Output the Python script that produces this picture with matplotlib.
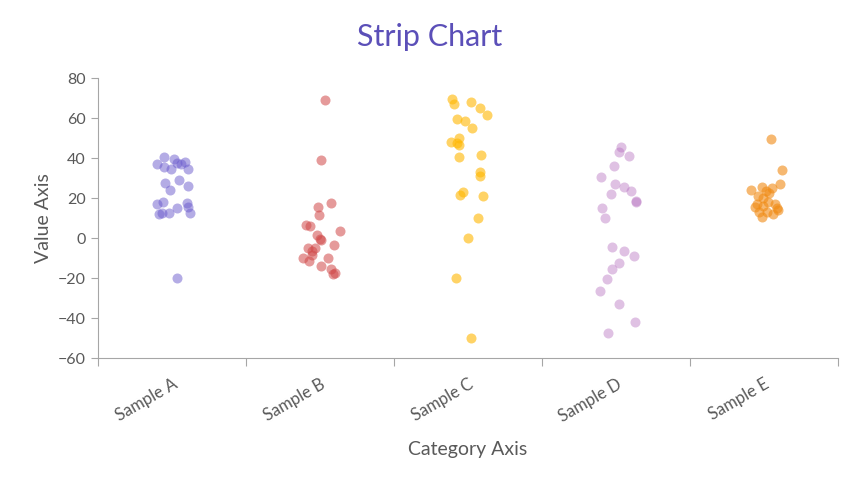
import numpy as np
import matplotlib
matplotlib.use('Agg')
import matplotlib.pyplot as plt

categories = ['Sample A', 'Sample B', 'Sample C', 'Sample D', 'Sample E']
colors = ['#6a5acd', '#d04848', '#ffb700', '#b46cbe', '#f08a12']
alphas = [0.5, 0.55, 0.6, 0.42, 0.6]

# values, with the horizontal jitter of each dot
a_vals = [40.7, 37, 35.7, 39.3, 37.3, 34.3, 37, 38, 34.3, 27.7, 29, 24, 26.2,
          17, 17.8, 15.2, 17.7, 15.7, 12, 12.5, 12.3, 12.3, -19.8]
a_jit = [-0.054, -0.099, -0.052, 0.016, 0.032, -0.009, 0.061, 0.090, 0.108, -0.047, 0.047, -0.016, 0.106,
         -0.099, -0.061, 0.032, 0.099, 0.106, -0.088, -0.068, -0.020, 0.122, 0.036]

b_vals = [69.2, 39.2, 17.7, 15.7, 11.3, 6.7, 6.2, 3.3, 1.7, -0.3, -1.2, -3.5, -4.8,
          -4.8, -6.3, -8.5, -10, -11.5, -10, -13.8, -15.5, -18, -17.3]
b_jit = [0.036, 0.009, 0.074, -0.016, -0.009, -0.093, -0.066, 0.133, -0.020, 0.0, 0.009, 0.095, -0.079,
         -0.036, -0.054, -0.056, -0.117, -0.072, 0.056, 0.005, 0.072, 0.086, 0.103]

c_vals = [69.5, 66.8, 67.8, 64.8, 61.7, 59.3, 58.3, 55, 50.2, 48, 47.7, 46.3, 40.3,
          41.3, 32.8, 31.2, 21.7, 22.8, 20.8, 10, 0, -19.8, -49.8]
c_jit = [-0.110, -0.093, 0.022, 0.081, 0.128, -0.072, -0.020, 0.029, -0.063, -0.113, -0.076, -0.063, -0.063,
         0.088, 0.081, 0.081, -0.054, -0.032, 0.101, 0.070, 0.0, -0.079, 0.022]

d_vals = [45.7, 43.2, 41.2, 36, 30.7, 27, 25.7, 23.7, 22.2, 18.2, 18.6, 15.2, 9.8,
          -4.3, -6.7, -9.2, -12.3, -15.3, -20.5, -26.5, -32.8, -41.8, -47.5]
d_jit = [0.032, 0.018, 0.090, -0.014, -0.103, -0.007, 0.056, 0.099, -0.032, 0.135, 0.135, -0.093, -0.072,
         -0.027, 0.056, 0.122, 0.020, -0.025, -0.063, -0.110, 0.022, 0.128, -0.052]

e_vals = [49.3, 33.8, 27, 23.8, 25.7, 24.8, 23.5, 22.3, 21.2, 19.8, 18.2, 16.8, 17.2,
          15.8, 15.5, 12.8, 12.8, 15.2, 13.8, 11.8, 10.5]
e_jit = [0.045, 0.120, 0.108, -0.090, -0.014, 0.052, 0.014, 0.036, -0.039, -0.009, 0.029, -0.049, 0.074,
         -0.009, -0.063, -0.032, 0.018, 0.088, 0.097, 0.063, -0.011]

series = [(a_vals, a_jit), (b_vals, b_jit), (c_vals, c_jit), (d_vals, d_jit), (e_vals, e_jit)]

plt.rcParams['font.family'] = ['Lato', 'DejaVu Sans']
text_col = '#595959'
axis_col = '#a6a6a6'

fig = plt.figure(figsize=(8.6, 4.84), dpi=100)
ax = fig.add_axes([98 / 860, 1 - 358 / 484, 740 / 860, 280 / 484])

for i, (vals, jit) in enumerate(series):
    x = i + np.array(jit)
    ax.scatter(x, vals, s=52, color=colors[i], alpha=alphas[i], linewidths=0, zorder=3)

ax.set_xlim(-0.5, len(categories) - 0.5)
ax.set_ylim(-60, 80)
ax.set_yticks(np.arange(-60, 81, 20))

# category boundaries carry the tick marks, labels sit at the centres
ax.set_xticks(np.arange(-0.5, len(categories), 1.0))
ax.set_xticklabels([])
ax.set_xticks(np.arange(len(categories)), minor=True)
ax.set_xticklabels(categories, minor=True, rotation=30, ha='right',
                   rotation_mode='anchor', color=text_col, fontsize=12)
ax.tick_params(axis='x', which='minor', length=0, pad=13)
ax.tick_params(axis='x', which='major', length=6, color=axis_col, direction='out')
ax.tick_params(axis='y', length=5, color=axis_col, labelcolor=text_col, labelsize=11.5, pad=4)

for s in ['top', 'right']:
    ax.spines[s].set_visible(False)
for s in ['left', 'bottom']:
    ax.spines[s].set_color(axis_col)

ax.set_xlabel('Category Axis', color=text_col, fontsize=14, labelpad=12)
ax.set_ylabel('Value Axis', color=text_col, fontsize=14, labelpad=4)
fig.suptitle('Strip Chart', color='#5b4fb8', fontsize=22, x=0.5, y=0.952, va='top')

fig.savefig('out.png', dpi=100)
